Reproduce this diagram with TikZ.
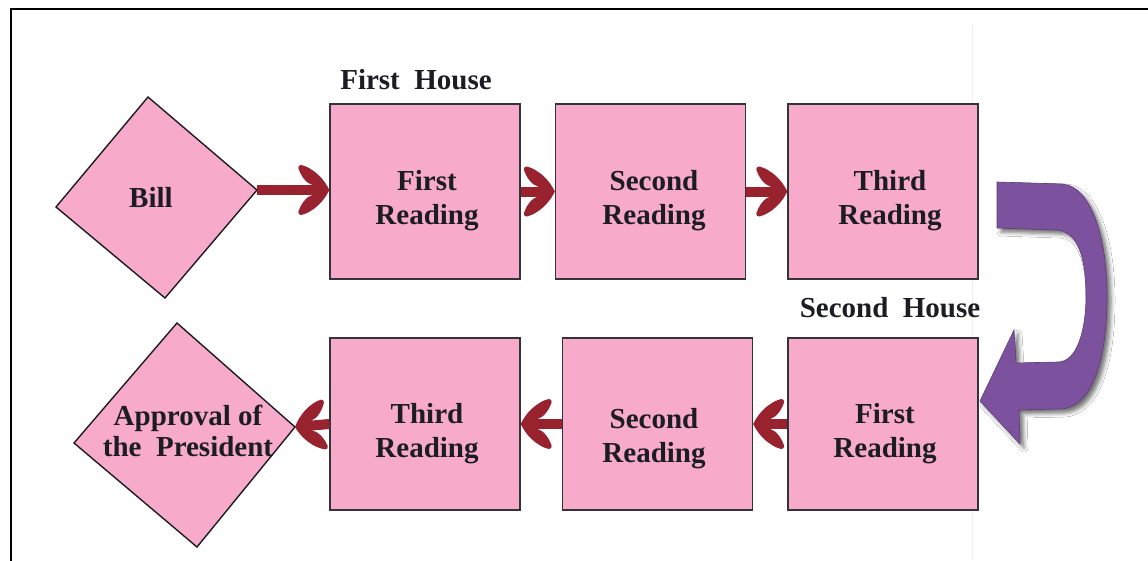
\documentclass[tikz,border=0pt]{standalone}
\usepackage{fontspec}
\setmainfont{Liberation Serif}
\usetikzlibrary{arrows.meta,shadows.blur}

% swept chevron head with curved, bulging barbs, fixed size
\pgfdeclarearrow{
  name=Chevron,
  setup code={
    \pgfarrowssettipend{0pt}
    \pgfarrowssetbackend{-31pt}
    \pgfarrowssetlineend{-14pt}
    \pgfarrowshullpoint{0pt}{0pt}
    \pgfarrowsupperhullpoint{-31pt}{25pt}
  },
  drawing code={
    \pgfpathmoveto{\pgfqpoint{0pt}{0pt}}
    \pgfpathcurveto{\pgfqpoint{-5pt}{11pt}}{\pgfqpoint{-16pt}{22pt}}{\pgfqpoint{-28pt}{25pt}}
    \pgfpathcurveto{\pgfqpoint{-30pt}{25pt}}{\pgfqpoint{-31pt}{24pt}}{\pgfqpoint{-31pt}{22pt}}
    \pgfpathcurveto{\pgfqpoint{-28pt}{13pt}}{\pgfqpoint{-23pt}{7pt}}{\pgfqpoint{-17pt}{5pt}}
    \pgfpathlineto{\pgfqpoint{-17pt}{-5pt}}
    \pgfpathcurveto{\pgfqpoint{-23pt}{-7pt}}{\pgfqpoint{-28pt}{-13pt}}{\pgfqpoint{-31pt}{-22pt}}
    \pgfpathcurveto{\pgfqpoint{-31pt}{-24pt}}{\pgfqpoint{-30pt}{-25pt}}{\pgfqpoint{-28pt}{-25pt}}
    \pgfpathcurveto{\pgfqpoint{-16pt}{-22pt}}{\pgfqpoint{-5pt}{-11pt}}{\pgfqpoint{0pt}{0pt}}
    \pgfpathclose
    \pgfusepathqfill
  }
}

\definecolor{boxpink}{RGB}{248,170,202}
\definecolor{arrowred}{RGB}{152,34,46}
\definecolor{turnpurple}{RGB}{124,82,158}
\definecolor{inkdark}{RGB}{28,28,36}

\tikzset{
  stage/.style={draw=inkdark!90, line width=1.4pt, fill=boxpink,
    minimum width=190pt, minimum height=174pt, inner sep=0pt},
  caption/.style={font=\fontsize{29}{34}\selectfont\bfseries, text=inkdark,
    align=center, inner sep=0pt},
  flow/.style={draw=arrowred, fill=arrowred, line width=10pt, -{Chevron}},
  decision/.style={draw=inkdark, line width=1.4pt, fill=boxpink, line join=miter},
}

\begin{document}
\begin{tikzpicture}[x=1pt,y=-1pt]
  \clip (0,0) rectangle (1148,560);
  \fill[white] (0,0) rectangle (1148,560);

  % outer frame and faint page edge
  \draw[line width=2.6pt, black] (11,9) rectangle (1170,590);
  \draw[line width=1pt, black!7] (972,25) -- (972,560);

  % decision diamonds
  \coordinate (billT) at (148,97);
  \coordinate (billR) at (257,190);
  \coordinate (billB) at (165,298);
  \coordinate (billL) at (56,207);
  \draw[decision] (billT) -- (billR) -- (billB) -- (billL) -- cycle;
  \node[caption] (bill) at (151,197) {Bill};

  \coordinate (apT) at (177,323);
  \coordinate (apR) at (295,427);
  \coordinate (apB) at (197,547);
  \coordinate (apL) at (74,443);
  \draw[decision] (apT) -- (apR) -- (apB) -- (apL) -- cycle;
  \node[caption, font=\fontsize{29}{31}\selectfont\bfseries] (approval) at (188,431)
    {Approval of\\the\ \ President};

  % first house
  \node[stage, minimum height=175pt] (b1) at (425,191.5) {};
  \node[stage, minimum height=175pt] (b2) at (650.5,191.5) {};
  \node[stage, minimum height=175pt] (b3) at (883,191.5) {};
  \node[caption] (t1) at (427,201) {First\\Reading};
  \node[caption] (t2) at (654,201) {Second\\Reading};
  \node[caption] (t3) at (890,201) {Third\\Reading};
  \node[caption] (house1) at (416,80) {First\ \ House};

  % second house
  \node[stage, minimum height=172pt] (b4) at (425,424) {};
  \node[stage, minimum height=172pt] (b5) at (657.5,424) {};
  \node[stage, minimum height=172pt] (b6) at (883,424) {};
  \node[caption] (t4) at (427,434) {Third\\Reading};
  \node[caption] (t5) at (654,439) {Second\\Reading};
  \node[caption] (t6) at (885,434) {First\\Reading};
  \node[caption] (house2) at (890,308) {Second\ \ House};

  % passage arrows
  \draw[flow] (billR) -- (b1.west |- billR);
  \draw[flow] (b1.east) -- (b2.west);
  \draw[flow] (b2.east) -- (b3.west);
  \draw[flow] (b6.west) -- (b5.east);
  \draw[flow] (b5.west) -- (b4.east);
  \draw[flow] (b4.west) -- (apR);

  % turn-around arrow from the first house to the second
  \fill[turnpurple, draw=turnpurple!75!black, line width=0.6pt,
        blur shadow={shadow xshift=4pt, shadow yshift=-4pt,
                     shadow blur radius=4pt, shadow opacity=55}]
    (997,182) -- (1062,184)
    .. controls (1092,186) and (1107,240) .. (1107,296)
    .. controls (1107,360) and (1092,408) .. (1060,409)
    -- (1019,410) -- (1020,444) -- (980,401) -- (1014,330) -- (1016,363)
    -- (1058,362)
    .. controls (1077,362) and (1086,330) .. (1086,296)
    .. controls (1086,258) and (1078,230) .. (1055,230)
    -- (997,228) -- cycle;
\end{tikzpicture}
\end{document}
